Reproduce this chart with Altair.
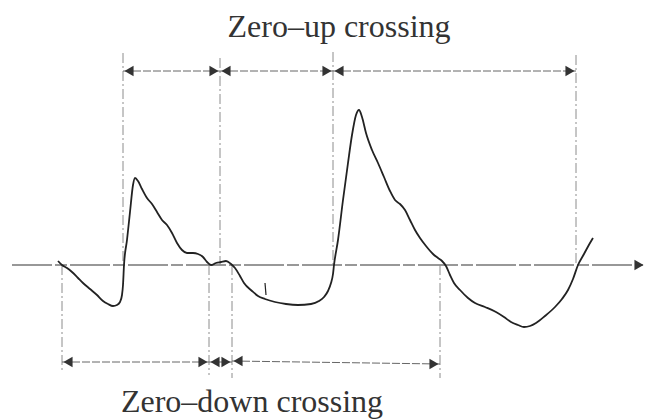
import altair as alt
import pandas as pd

# ---- data (time axis units ~ px, elevation units) ----
wave_t = [58, 62, 67, 72, 78, 83, 90, 97, 103, 108, 113, 117, 120, 122, 123, 124, 127, 130,
          133, 135, 138, 142, 147, 152, 157, 162, 167, 172, 177, 182, 187, 193, 198, 203, 207,
          211, 216, 221, 226, 231, 235, 240, 244, 252, 258, 265, 275, 286, 298, 311, 319, 324,
          328, 331, 333, 334, 338, 343, 348, 352, 356, 359, 362, 366, 372, 378, 384, 390, 395,
          400, 405, 410, 415, 420, 426, 433, 438, 442, 446, 450, 454, 460, 468, 475, 485, 496,
          504, 511, 518, 524, 530, 536, 545, 555, 562, 568, 573, 578, 584, 590, 593]
wave_eta = [4, 0, -3, -7, -13, -18, -24, -30, -36, -39, -41, -40, -37, -30, -20, 0, 25, 53,
            80, 87, 84, 76, 67, 61, 53, 45, 40, 32, 22, 15, 12, 12, 11, 8, 3,
            0, 2, 3, 4, 1, -3, -11, -18, -26, -31, -34, -37, -39, -40, -39, -36, -32,
            -26, -18, -9, 0, 25, 65, 102, 130, 150, 155, 148, 132, 115, 102, 88, 74, 65,
            61, 55, 45, 35, 27, 19, 11, 7, 4, -1, -10, -18, -25, -33, -38, -42, -47,
            -52, -57, -60, -62, -61, -58, -51, -42, -34, -25, -14, 0, 11, 22, 27]

# small pen tick on the second trough
tick_t = [265, 266]
tick_eta = [-18, -30]

# zero-up crossing times and zero-down crossing times
up_t = [123, 220, 333, 576]
up_top = [212, 207, 213, 210]
down_t = [62, 209, 232, 440]
down_bottom = [-107, -110, -113, -113]

# period arrows
up_seg_start = [123, 220, 333]
up_seg_end = [220, 333, 576]
up_level = 194
down_seg_start = [62, 209, 232]
down_seg_end = [209, 232, 440]
down_level_start = [-97, -97, -96]
down_level_end = [-97, -97, -99]

# zero line
zero_start, zero_end = 12, 643

labels = ["Zero\u2013up crossing", "Zero\u2013down crossing"]
label_t = [339, 252]
label_eta = [228, -147]

# ---- chart ----
xs = alt.Scale(domain=[8, 648], nice=False, zero=False)
ys = alt.Scale(domain=[-155, 257], nice=False, zero=False)
X = lambda f: alt.X(f, type="quantitative", scale=xs, axis=None)
Y = lambda f: alt.Y(f, type="quantitative", scale=ys, axis=None)

ink = "#222222"
guide = "#8c8c8c"

wave = alt.Chart(pd.DataFrame({"t": wave_t, "eta": wave_eta})).mark_line(
    color=ink, strokeWidth=1.8, interpolate="monotone"
).encode(x=X("t"), y=Y("eta"), order="t:Q")

tick = alt.Chart(pd.DataFrame({"t": tick_t, "eta": tick_eta})).mark_line(
    color=ink, strokeWidth=1.2
).encode(x=X("t"), y=Y("eta"))

zero = alt.Chart(pd.DataFrame({"a": [zero_start], "b": [zero_end], "e": [0]})).mark_rule(
    color="#333", strokeWidth=1.2, strokeDash=[40, 3, 12, 3]
).encode(x=X("a"), x2="b", y=Y("e"))

up_v = alt.Chart(pd.DataFrame({"t": up_t, "top": up_top, "z": [0] * 4})).mark_rule(
    color=guide, strokeWidth=1, strokeDash=[10, 3, 2, 3]
).encode(x=X("t"), y=Y("top"), y2="z")

down_v = alt.Chart(pd.DataFrame({"t": down_t, "bot": down_bottom, "z": [0] * 4})).mark_rule(
    color=guide, strokeWidth=1, strokeDash=[10, 3, 2, 3]
).encode(x=X("t"), y=Y("z"), y2="bot")

up_h = alt.Chart(pd.DataFrame({"a": up_seg_start, "b": up_seg_end, "e": [up_level] * 3})).mark_rule(
    color="#666", strokeWidth=1, strokeDash=[8, 2]
).encode(x=X("a"), x2="b", y=Y("e"))

down_h = alt.Chart(pd.DataFrame({"a": down_seg_start, "b": down_seg_end,
                                 "e1": down_level_start, "e2": down_level_end})).mark_line(
    color="#666", strokeWidth=1, strokeDash=[8, 2]
).transform_fold(["a", "b"], as_=["k", "t"]).transform_calculate(
    eta="datum.k == 'a' ? datum.e1 : datum.e2"
).encode(x=X("t"), y=Y("eta"), detail="a:Q")

heads_r = pd.DataFrame({
    "t": up_seg_end + [zero_end + 2] + down_seg_end,
    "eta": [up_level] * 3 + [0] + down_level_end,
})
heads_l = pd.DataFrame({
    "t": up_seg_start + down_seg_start,
    "eta": [up_level] * 3 + down_level_start,
})
arr_r = alt.Chart(heads_r).mark_point(
    shape="triangle-right", filled=True, color="#333", size=110, opacity=1, xOffset=-6
).encode(x=X("t"), y=Y("eta"))
arr_l = alt.Chart(heads_l).mark_point(
    shape="triangle-left", filled=True, color="#333", size=110, opacity=1, xOffset=6
).encode(x=X("t"), y=Y("eta"))

text = alt.Chart(pd.DataFrame({"label": labels, "t": label_t, "eta": label_eta})).mark_text(
    font="Liberation Serif", fontSize=32, color="#333", align="center", baseline="alphabetic"
).encode(x=X("t"), y=Y("eta"), text="label:N")

chart = alt.layer(zero, up_v, down_v, up_h, down_h, wave, tick, arr_r, arr_l, text).properties(
    width=640, height=412, padding=0, autosize="none"
).configure_view(stroke=None)

chart.save("out.html", embed_options={"renderer": "svg", "actions": False})
